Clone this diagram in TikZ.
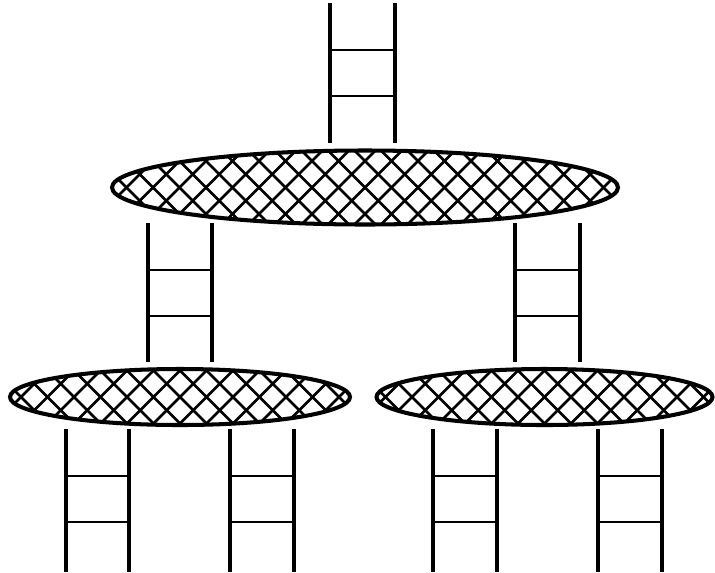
\documentclass[tikz,border=0pt]{standalone}
\tikzset{
  rail/.style={line width=2pt},
  rungline/.style={line width=1.6pt},
  blobline/.style={line width=2.3pt},
  hatchline/.style={line width=1.5pt}
}
\newcommand\myladder[4]{%
  \draw[rail] (#1,#3) -- (#1,#4) (#2,#3) -- (#2,#4);
  \draw[rungline] (#1,#3+47) -- (#2,#3+47) (#1,#3+93) -- (#2,#3+93);
}
\newcommand\myblob[4]{%
  \begin{scope}
    \clip (#1,#2) ellipse [x radius=#3, y radius=#4];
    \foreach \k in {-12,...,12}{
      \draw[hatchline] ({#1+\k*26.5-#4-2},{#2-#4-2}) -- ++({2*#4+4},{2*#4+4});
      \draw[hatchline] ({#1+\k*26.5+#4+2},{#2-#4-2}) -- ++({-2*#4-4},{2*#4+4});
    }
  \end{scope}
  \draw[blobline] (#1,#2) ellipse [x radius=#3, y radius=#4];
}
\begin{document}
\begin{tikzpicture}[x=0.02cm,y=-0.02cm]
  \useasboundingbox (0,0) rectangle (715,572);
  % top ladder
  \myladder{330}{395}{3}{143}
  % top ellipse
  \myblob{365}{187.5}{253}{37}
  % middle ladders
  \myladder{148}{212}{223}{362}
  \myladder{515}{580}{223}{362}
  % lower ellipses
  \myblob{180}{397}{170}{28}
  \myblob{544.5}{397}{168}{28}
  % bottom ladders
  \myladder{66}{129}{429}{572}
  \myladder{230}{294}{429}{572}
  \myladder{433}{497}{429}{572}
  \myladder{598}{662}{429}{572}
\end{tikzpicture}
\end{document}
